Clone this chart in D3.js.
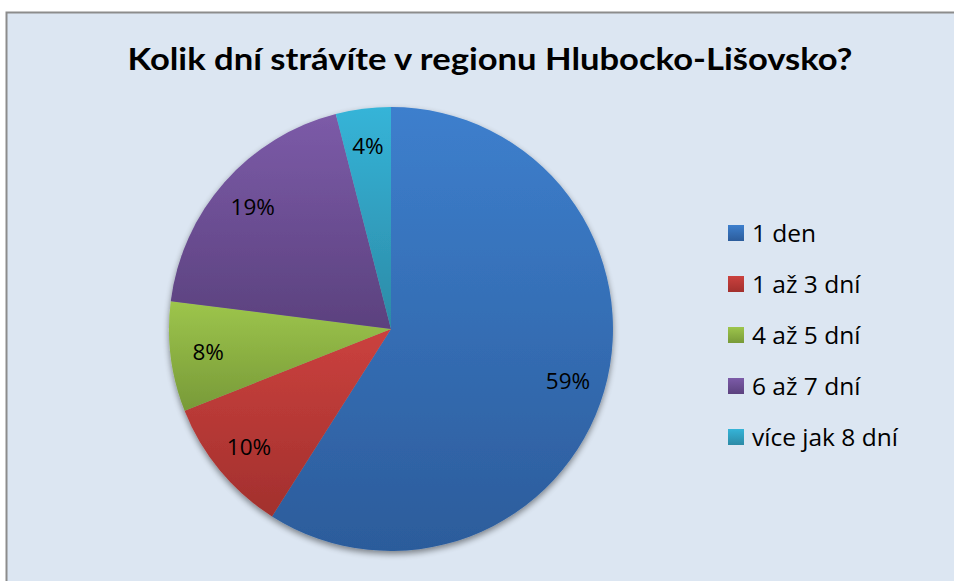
<!DOCTYPE html>
<html>
<head>
<meta charset="utf-8">
<script src="https://cdn.jsdelivr.net/npm/d3@7"></script>
<style>
  body { margin: 0; background: #fff; }
  svg { display: block; }
</style>
</head>
<body>
<div id="chart"></div>
<script>
// data
const categories = ["1 den", "1 až 3 dní", "4 až 5 dní", "6 až 7 dní", "více jak 8 dní"];
const values = [59, 10, 8, 19, 4];
const labels = ["59%", "10%", "8%", "19%", "4%"];
const title = "Kolik dní strávíte v regionu Hlubocko-Lišovsko?";

// top / bottom gradient colours per slice
const topColors = ["#3d7fcd", "#cb413e", "#9dc54c", "#7c5ba8", "#35b4d8"];
const bottomColors = ["#2c5c9b", "#a2302d", "#789a38", "#5b417e", "#2c8aa6"];

const width = 954, height = 581;
const cx = 391, cy = 329, radius = 222;

const svg = d3.select("#chart")
  .append("svg")
  .attr("width", width)
  .attr("height", height);

const defs = svg.append("defs");

// vertical gradient for each slice (light at top, dark at bottom)
categories.forEach((c, i) => {
  const g = defs.append("linearGradient")
    .attr("id", "grad" + i)
    .attr("x1", 0).attr("y1", 0)
    .attr("x2", 0).attr("y2", 1);
  g.append("stop").attr("offset", "0%").attr("stop-color", topColors[i]);
  g.append("stop").attr("offset", "100%").attr("stop-color", bottomColors[i]);
});

// soft shadow under the pie
const shadow = defs.append("filter").attr("id", "shadow")
  .attr("x", "-10%").attr("y", "-10%").attr("width", "120%").attr("height", "125%");
shadow.append("feGaussianBlur").attr("in", "SourceAlpha").attr("stdDeviation", 3);
shadow.append("feOffset").attr("dx", 0).attr("dy", 3).attr("result", "blur");
shadow.append("feComponentTransfer").append("feFuncA").attr("type", "linear").attr("slope", 0.45);
const merge = shadow.append("feMerge");
merge.append("feMergeNode");
merge.append("feMergeNode").attr("in", "SourceGraphic");

// chart area background + border
svg.append("rect")
  .attr("x", 6.5).attr("y", 12.5)
  .attr("width", width + 10).attr("height", height + 10)
  .attr("fill", "#dce6f2")
  .attr("stroke", "#8c8c8c")
  .attr("stroke-width", 2);

svg.append("text")
  .attr("x", 490).attr("y", 70)
  .attr("text-anchor", "middle")
  .style("font-family", "Lato, 'Open Sans', sans-serif")
  .style("font-weight", "bold")
  .style("font-size", "31px")
  .attr("fill", "#000")
  .attr("textLength", 725)
  .attr("lengthAdjust", "spacingAndGlyphs")
  .text(title);

const pie = d3.pie().sort(null).value(d => d);
const arcs = pie(values);

const arc = d3.arc().innerRadius(0).outerRadius(radius);
const labelArc = d3.arc().innerRadius(radius * 0.83).outerRadius(radius * 0.83);

const g = svg.append("g")
  .attr("transform", `translate(${cx}, ${cy})`);

g.append("g")
  .attr("filter", "url(#shadow)")
  .selectAll("path")
  .data(arcs)
  .enter()
  .append("path")
    .attr("d", arc)
    .attr("fill", (d, i) => `url(#grad${i})`);

g.selectAll("text.lbl")
  .data(arcs)
  .enter()
  .append("text")
    .attr("class", "lbl")
    .attr("transform", d => `translate(${labelArc.centroid(d)})`)
    .attr("text-anchor", "middle")
    .attr("dy", "0.36em")
    .style("font-family", "'Open Sans', sans-serif")
    .style("font-size", "22.5px")
    .attr("fill", "#000")
    .text((d, i) => labels[i]);

// legend
const legend = svg.append("g")
  .attr("transform", "translate(728, 233)");

const rows = legend.selectAll("g")
  .data(categories)
  .enter()
  .append("g")
    .attr("transform", (d, i) => `translate(0, ${i * 51})`);

rows.append("rect")
  .attr("x", 0).attr("y", -8)
  .attr("width", 16).attr("height", 16)
  .attr("fill", (d, i) => `url(#grad${i})`);

rows.append("text")
  .attr("x", 24)
  .attr("dy", "0.36em")
  .style("font-family", "'Open Sans', sans-serif")
  .style("font-size", "24.5px")
  .attr("fill", "#000")
  .text(d => d);
</script>
</body>
</html>
